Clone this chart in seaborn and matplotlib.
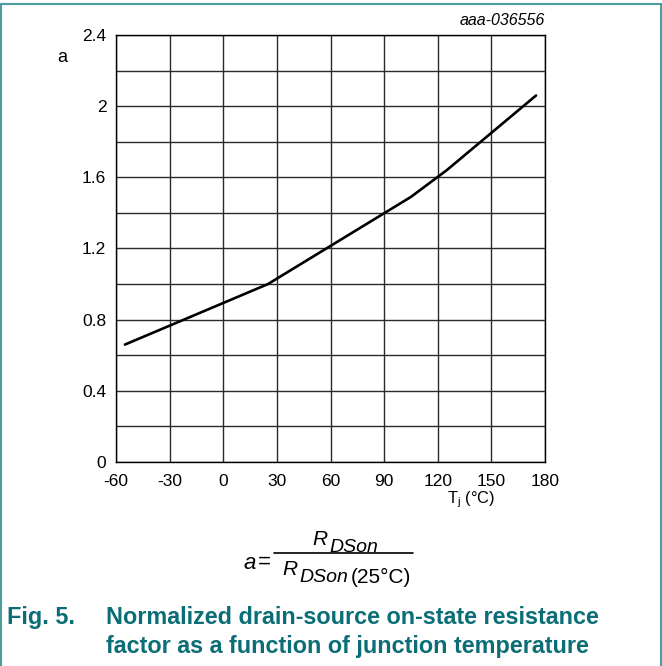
import matplotlib
matplotlib.use("Agg")
import matplotlib.pyplot as plt
import seaborn as sns
import pandas as pd
from matplotlib.lines import Line2D

temps = [-55, 25, 105, 125, 150, 175]
factor = [0.66, 1.0, 1.49, 1.64, 1.85, 2.06]
x_ticks = [-60, -30, 0, 30, 60, 90, 120, 150, 180]
y_ticks = [0, 0.4, 0.8, 1.2, 1.6, 2.0, 2.4]
y_tick_labels = ["0", "0.4", "0.8", "1.2", "1.6", "2", "2.4"]
y_grid = [0.2 * i for i in range(13)]

sns.set_style("white")
plt.rcParams['font.family'] = ['Liberation Sans', 'DejaVu Sans']
plt.rcParams['text.color'] = 'black'
plt.rcParams['mathtext.fontset'] = 'custom'
plt.rcParams['mathtext.rm'] = 'Liberation Sans'
plt.rcParams['mathtext.it'] = 'Liberation Sans:italic'

W, H = 662, 666
fig = plt.figure(figsize=(W/100, H/100), dpi=100)
ax = fig.add_axes([116/W, 1-462/H, (545-116)/W, (462-35)/H])

df = pd.DataFrame({"T": temps, "a": factor})
sns.lineplot(data=df, x="T", y="a", ax=ax, color="black", linewidth=1.9, zorder=3)

ax.set_xlim(-60, 180)
ax.set_ylim(0, 2.4)
ax.set_xticks(x_ticks)
ax.set_xticklabels([str(v) for v in x_ticks])
ax.set_yticks(y_ticks)
ax.set_yticklabels(y_tick_labels)
ax.tick_params(axis='both', length=0, labelsize=12.5, colors='black', labelcolor='black')
ax.tick_params(axis='x', pad=9)
ax.tick_params(axis='y', pad=7)
for v in x_ticks:
    ax.axvline(v, color='#2a2a2a', linewidth=1.0, zorder=1)
for v in y_grid:
    ax.axhline(v, color='#2a2a2a', linewidth=1.0, zorder=1)
for s in ax.spines.values():
    s.set_color('black')
    s.set_linewidth(1.0)
ax.set_xlabel("")
ax.set_ylabel("")

def px(x, y):
    return x / W, 1 - y / H

fig.text(*px(62, 62), "a", fontsize=13, ha='center', va='baseline', color='black')
fig.text(*px(545, 25), "aaa-036556", fontsize=11.5, style='italic', ha='right', va='baseline', color='black')
fig.text(*px(471, 503), r"T$_\mathrm{j}$ (°C)", fontsize=11.8, ha='center', va='baseline', color='black')

# formula a = R_DSon / R_DSon(25°C)
fk = dict(ha='left', va='baseline', color='black')
fig.text(*px(244, 569), "a", fontsize=16, style='italic', **fk)
fig.text(*px(258, 568), "=", fontsize=16, **fk)
fig.add_artist(Line2D([274/W, 413/W], [1-553/H, 1-553/H], transform=fig.transFigure, color='black', linewidth=1.2))
fig.text(*px(312, 545), "R", fontsize=15, style='italic', **fk)
fig.text(*px(329, 552), "DSon", fontsize=14, style='italic', **fk)
fig.text(*px(282, 575), "R", fontsize=15, style='italic', **fk)
fig.text(*px(299, 582), "DSon", fontsize=14, style='italic', **fk)
fig.text(*px(351, 583), "(25°C)", fontsize=15, **fk)

teal = '#0b6e76'
cap = dict(fontsize=16.8, fontweight='bold', color=teal, ha='left', va='baseline')
fig.text(*px(7, 624), "Fig. 5.", **cap)
fig.text(*px(106, 624), "Normalized drain-source on-state resistance", **cap)
fig.text(*px(106, 653), "factor as a function of junction temperature", **cap)

border = '#4a9ea0'
for xs, ys in [([0.75, 0.75], [666, 4]), ([661.25, 661.25], [666, 4]), ([0.75, 661.25], [4, 4])]:
    fig.add_artist(Line2D([x / W for x in xs], [1 - y / H for y in ys],
                          transform=fig.transFigure, color=border, linewidth=1.5))

fig.savefig("out.png", dpi=100)
